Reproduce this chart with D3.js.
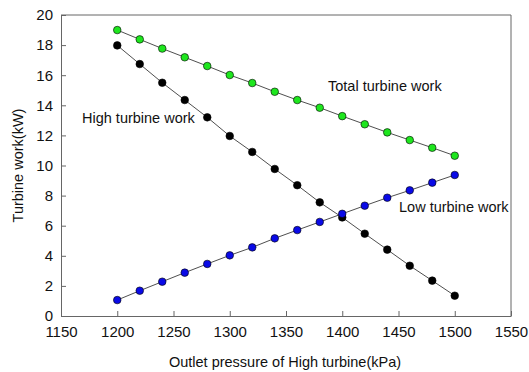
<!DOCTYPE html>
<html lang="en">
<head>
<meta charset="UTF-8">
<title>Turbine work</title>
<script src="https://cdnjs.cloudflare.com/ajax/libs/d3/7.8.5/d3.min.js"></script>
<style>
    body { margin: 0; background: #fff; }
    svg { display: block; font-family: Arial, "Liberation Sans", sans-serif; }
</style>
</head>
<body>
<svg width="529" height="372"></svg>
<script>
    // data
    const pressure = [1200, 1220, 1240, 1260, 1280, 1300, 1320, 1340, 1360, 1380, 1400, 1420, 1440, 1460, 1480, 1500];
    const totalWork = [19.0, 18.38, 17.77, 17.19, 16.61, 16.01, 15.48, 14.9, 14.35, 13.84, 13.28, 12.74, 12.2, 11.69, 11.18, 10.65];
    const highWork = [17.98, 16.74, 15.5, 14.35, 13.2, 11.96, 10.9, 9.77, 8.69, 7.55, 6.55, 5.47, 4.41, 3.34, 2.35, 1.35];
    const lowWork = [1.06, 1.68, 2.28, 2.88, 3.46, 4.03, 4.56, 5.16, 5.71, 6.25, 6.79, 7.33, 7.86, 8.35, 8.86, 9.37];
    const xTicks = [1150, 1200, 1250, 1300, 1350, 1400, 1450, 1500, 1550];
    const yTicks = [0, 2, 4, 6, 8, 10, 12, 14, 16, 18, 20];

    const series = [
        { name: "Total turbine work", values: totalWork, fill: "#1ee61e", label: [328, 91] },
        { name: "High turbine work", values: highWork, fill: "#000000", label: [82, 123] },
        { name: "Low turbine work", values: lowWork, fill: "#0a0ae6", label: [399, 212] }
    ];

    const svg = d3.select("svg");
    const plot = { left: 61, right: 511, top: 15, bottom: 316 };

    const x = d3.scaleLinear().domain([1150, 1550]).range([plot.left, plot.right]);
    const y = d3.scaleLinear().domain([0, 20]).range([plot.bottom, plot.top]);

    // frame (top and right)
    svg.append("path")
        .attr("d", `M${plot.left},${plot.top}H${plot.right}V${plot.bottom}`)
        .attr("fill", "none")
        .attr("stroke", "#666")
        .attr("stroke-width", 1);

    const xAxis = svg.append("g")
        .attr("transform", `translate(0,${plot.bottom})`)
        .call(d3.axisBottom(x).tickValues(xTicks).tickFormat(d3.format("d"))
            .tickSizeInner(-5).tickSizeOuter(0).tickPadding(10));
    const yAxis = svg.append("g")
        .attr("transform", `translate(${plot.left},0)`)
        .call(d3.axisLeft(y).tickValues(yTicks).tickFormat(d3.format("d"))
            .tickSizeInner(-5).tickSizeOuter(0).tickPadding(8));

    [xAxis, yAxis].forEach(g => {
        g.select(".domain").attr("stroke", "#666");
        g.selectAll(".tick line").attr("stroke", "#666");
        g.selectAll(".tick text").attr("font-size", 15).attr("fill", "#111")
            .attr("font-family", "Arial, 'Liberation Sans', sans-serif");
    });

    const line = d3.line()
        .x((d, i) => x(pressure[i]))
        .y(d => y(d));

    series.forEach(s => {
        svg.append("path")
            .datum(s.values)
            .attr("d", line)
            .attr("fill", "none")
            .attr("stroke", "#222")
            .attr("stroke-width", 0.8);

        svg.selectAll(null)
            .data(s.values)
            .enter()
            .append("circle")
            .attr("cx", (d, i) => x(pressure[i]))
            .attr("cy", d => y(d))
            .attr("r", 3.8)
            .attr("fill", s.fill)
            .attr("stroke", "#000")
            .attr("stroke-width", 0.6);

        svg.append("text")
            .attr("x", s.label[0])
            .attr("y", s.label[1])
            .attr("font-size", 14.5)
            .attr("fill", "#111")
            .text(s.name);
    });

    // axis titles
    svg.append("text")
        .attr("x", 285)
        .attr("y", 367)
        .attr("text-anchor", "middle")
        .attr("font-size", 14.5)
        .attr("fill", "#111")
        .text("Outlet pressure of High turbine(kPa)");

    svg.append("text")
        .attr("transform", `translate(23,${(plot.top + plot.bottom) / 2}) rotate(-90)`)
        .attr("text-anchor", "middle")
        .attr("font-size", 14.5)
        .attr("fill", "#111")
        .text("Turbine work(kW)");
</script>
</body>
</html>
